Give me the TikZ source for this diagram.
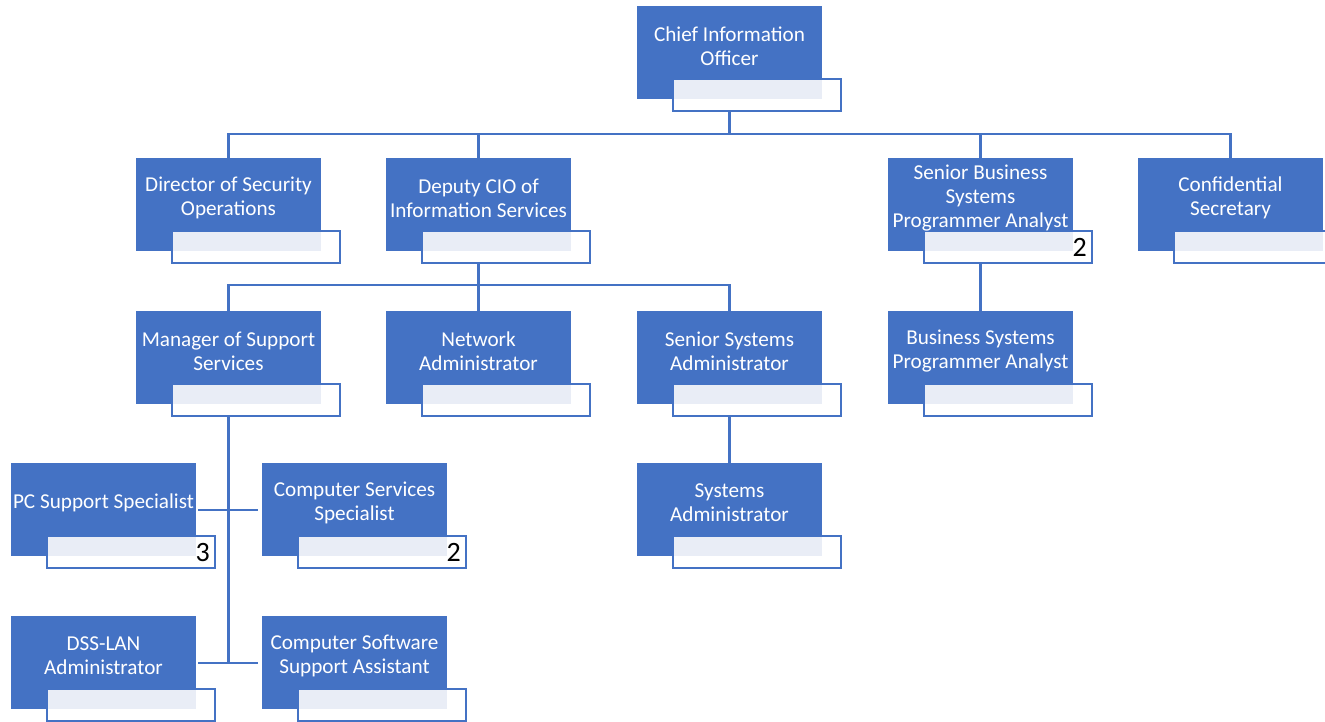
\documentclass[tikz,border=0pt]{standalone}
\usepackage{fontspec}
\setmainfont{Carlito}
\usetikzlibrary{calc}
\definecolor{obox}{HTML}{4472C4}
\definecolor{olight}{HTML}{E9EDF6}
\tikzset{
 bluebox/.style={fill=obox, minimum width=185pt, minimum height=93pt, inner sep=0pt, outer sep=0pt, anchor=north west},
 subbox/.style={draw=obox, line width=2pt, minimum width=168pt, minimum height=32pt, inner sep=0pt, outer sep=0pt, anchor=north west},
 boxtext/.style={text=white, font=\fontsize{21.2}{23.7}\selectfont, align=center, inner sep=0pt},
 countnum/.style={font=\fontsize{28}{28}\selectfont, anchor=base east, inner sep=0pt},
 link/.style={draw=obox, line width=2.4pt}
}
\newcommand\orgunit[5]{%
 \node[bluebox] (#1) at (#2,#3) {};
 \fill[olight] ($(#1.south west)+(36,-20)$) rectangle (#1.south east);
 \node[subbox] (#1s) at ($(#1.south west)+(36,-20)$) {};
 \node[boxtext] (#1t) at ($(#1.north)+(0,40)$) {#4};
 \if\relax\detokenize{#5}\relax\else\node[countnum] (#1n) at ($(#1s.south east)+(-5,-7)$) {#5};\fi
}
\begin{document}
\begin{tikzpicture}[x=1pt,y=-1pt]
\useasboundingbox (0,0) rectangle (1325,722);
\orgunit{cio}{637}{6}{Chief Information\\Officer}{}
\orgunit{dso}{136}{158}{Director of Security\\Operations}{}
\orgunit{dep}{386}{158}{Deputy CIO of\\Information Services}{}
\orgunit{sbs}{888}{158}{Senior Business\\Systems\\Programmer Analyst}{2}
\orgunit{sec}{1138}{158}{Confidential\\Secretary}{}
\orgunit{mss}{136}{311}{Manager of Support\\Services}{}
\orgunit{net}{386}{311}{Network\\Administrator}{}
\orgunit{ssa}{637}{311}{Senior Systems\\Administrator}{}
\orgunit{bsp}{888}{311}{Business Systems\\Programmer Analyst}{}
\orgunit{pcs}{11}{463}{PC Support Specialist}{3}
\orgunit{css}{262}{463}{Computer Services\\Specialist}{2}
\orgunit{sad}{637}{463}{Systems\\Administrator}{}
\orgunit{dss}{11}{616}{DSS-LAN\\Administrator}{}
\orgunit{csa}{262}{616}{Computer Software\\Support Assistant}{}
% connectors
\draw[link] (cio.south |- cios.south) -- ++(0,23) coordinate (bus1);
\draw[link] (dso.north) |- (bus1);
\draw[link] (sec.north) |- (bus1);
\draw[link] (dep.north) -- (dep.north |- bus1);
\draw[link] (sbs.north) -- (sbs.north |- bus1);
\draw[link] (dep.south |- deps.south) -- ++(0,22) coordinate (bus2);
\draw[link] (mss.north) |- (bus2);
\draw[link] (ssa.north) |- (bus2);
\draw[link] (net.north) -- (net.north |- bus2);
\draw[link] (sbs.south |- sbss.south) -- (bsp.north);
\draw[link] (ssa.south |- ssas.south) -- (sad.north);
\path ($(pcs.north east)+(2,47)$) coordinate (pcsR);
\path ($(css.north west)+(-4,47)$) coordinate (cssL);
\path ($(dss.north east)+(2,47)$) coordinate (dssR);
\path ($(csa.north west)+(-4,47)$) coordinate (csaL);
\draw[link] (mss.south |- msss.south) -- (mss.south |- dssR);
\draw[link] (pcsR) -- (cssL);
\draw[link] (dssR) -- (csaL);
\end{tikzpicture}
\end{document}
